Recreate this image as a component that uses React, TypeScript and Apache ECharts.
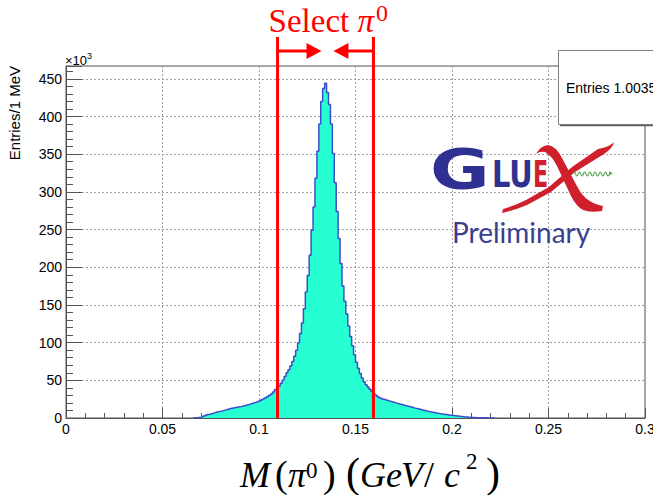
import { useEffect, useRef } from "react";
import * as echarts from "echarts";

// Two-photon invariant mass, 1 MeV bins, entries in units of 10^3
const FIRST_BIN_LOW_EDGE = 0.066; // GeV
const BIN_WIDTH = 0.001; // GeV
const entriesK: number[] = [
  0.3, 0.5, 0.8, 1.0, 1.5, 2.5, 3.5, 4.5, 5.3, 6.0,
  6.8, 7.5, 8.2, 8.8, 9.4, 10.1, 10.8, 11.5, 12.2, 12.8,
  13.4, 13.9, 14.4, 14.9, 15.4, 16.0, 16.7, 17.3, 18.0, 18.8,
  19.6, 20.4, 21.2, 22.0, 23.0, 24.2, 25.5, 27.0, 28.5, 30.2,
  32.0, 34.5, 37.5, 40.0, 42.5, 46.0, 50.0, 55, 60, 64,
  69, 75, 82, 90, 100, 112, 126, 145, 167, 189,
  216, 249, 280, 318, 354, 390, 420, 437, 444, 432,
  416, 390, 351, 312, 274, 238, 205, 175, 155, 138,
  122, 108, 96, 84, 74, 66, 59, 53, 48, 44,
  41, 38, 35, 32.5, 30.5, 28.5, 27, 25.8, 24.8, 24,
  23.2, 22.4, 21.6, 20.8, 20.1, 19.4, 18.7, 18.0, 17.3, 16.6,
  15.9, 15.2, 14.5, 13.8, 13.1, 12.5, 11.9, 11.3, 10.6, 10.0,
  9.4, 8.8, 8.2, 7.7, 7.2, 6.7, 6.2, 5.8, 5.4, 5.0,
  4.6, 4.2, 3.8, 3.5, 3.2, 2.9, 2.6, 2.3, 2.0, 1.7,
  1.4, 1.2, 1.0, 0.8, 0.6, 0.5, 0.4, 0.35, 0.3, 0.25,
  0.2, 0.18, 0.15, 0.12, 0.1, 0.08,
];

const X_MIN = 0;
const X_MAX = 0.3;
const X_INTERVAL = 0.05;
const Y_MIN = 0;
const Y_MAX = 467;
const Y_INTERVAL = 50;

// pi0 selection window (GeV)
const SELECT_WINDOW = [0.1096, 0.1593];

const Y_AXIS_TITLE = "Entries/1 MeV";
const STATS_TEXT = "Entries 1.00351e+07";

const SANS = "Liberation Sans";
const SERIF = "Liberation Serif";
const AXIS_GREY = "#555555";
const RED = "#ff0000";

// GlueX logo strokes
echarts.graphic.registerShape(
  "gluexThick",
  echarts.graphic.extendPath(
    "M536 154 Q540 146 548 145 Q556 146 562 158 L578 188 Q586 203 603 206 L602 211 Q590 213 583 210 Q576 206 571 196 L557 166 Q552 156 545 152 Q540 151 536 154 Z",
    {}
  )
);
echarts.graphic.registerShape(
  "gluexThin",
  echarts.graphic.extendPath(
    "M614 142 Q610 147 598 149 L572 167 L549 187 L526 200 Q514 206 503 209 L502 213 Q515 210 527 205 L551 192 L575 172 L604 154 Q613 148 614 142 Z",
    {}
  )
);
echarts.graphic.registerShape(
  "gluexWave",
  echarts.graphic.extendPath(
    "M573 174 Q574.3 170 575.6 174 Q576.9 178 578.2 174 Q579.5 170 580.8 174 Q582.1 178 583.4 174 Q584.7 170 586 174 Q587.3 178 588.6 174 Q589.9 170 591.2 174 Q592.5 178 593.8 174 Q595.1 170 596.4 174 Q597.7 178 599 174 Q600.3 170 601.6 174 Q602.9 178 604.2 174 Q605.5 170 606.8 174 Q608.1 178 609.4 174",
    {}
  )
);

function txt(
  x: number,
  y: number,
  text: string,
  opts: Record<string, unknown>,
  extra: Record<string, unknown> = {}
) {
  const align = (opts.align as string) || "left";
  const vAlign = (opts.verticalAlign as string) || "middle";
  return {
    type: "text",
    x,
    y,
    z: 60,
    ...extra,
    style: {
      text,
      align,
      textAlign: align,
      verticalAlign: vAlign,
      textVerticalAlign: vAlign,
      ...opts,
    },
  };
}

export default function App() {
  const ref = useRef<HTMLDivElement>(null);

  useEffect(() => {
    if (!ref.current) return;
    const chart = echarts.init(ref.current, null, { renderer: "svg" });

    const histPoints: [number, number][] = [[FIRST_BIN_LOW_EDGE, 0]];
    entriesK.forEach((v, i) => {
      histPoints.push([+(FIRST_BIN_LOW_EDGE + i * BIN_WIDTH).toFixed(4), v]);
    });
    histPoints.push([
      +(FIRST_BIN_LOW_EDGE + entriesK.length * BIN_WIDTH).toFixed(4),
      0,
    ]);

    const axisLabel = {
      fontFamily: SANS,
      fontSize: 14,
      color: "#000",
    };

    chart.setOption({
      animation: false,
      backgroundColor: "#ffffff",
      grid: {
        left: 66,
        top: 66,
        right: 8,
        bottom: 77,
        show: true,
        borderColor: AXIS_GREY,
        borderWidth: 1,
        containLabel: false,
        outerBoundsMode: "none",
      },
      xAxis: {
        type: "value",
        min: X_MIN,
        max: X_MAX,
        interval: X_INTERVAL,
        axisLine: { show: true, lineStyle: { color: AXIS_GREY, width: 1 } },
        axisTick: {
          show: true,
          inside: true,
          length: 10,
          lineStyle: { color: AXIS_GREY },
        },
        minorTick: {
          show: true,
          splitNumber: 5,
          length: 5,
          lineStyle: { color: AXIS_GREY },
        },
        splitLine: {
          show: true,
          lineStyle: { color: "#a0a0a0", type: [2, 2], width: 1 },
        },
        axisLabel: { ...axisLabel, margin: 4 },
      },
      yAxis: {
        type: "value",
        min: Y_MIN,
        max: Y_MAX,
        interval: Y_INTERVAL,
        axisLine: { show: true, lineStyle: { color: AXIS_GREY, width: 1 } },
        axisTick: {
          show: true,
          inside: true,
          length: 16,
          lineStyle: { color: AXIS_GREY },
        },
        minorTick: {
          show: true,
          splitNumber: 5,
          length: 7,
          lineStyle: { color: AXIS_GREY },
        },
        splitLine: {
          show: true,
          lineStyle: { color: "#a0a0a0", type: [2, 2], width: 1 },
        },
        axisLabel: { ...axisLabel, margin: 4, showMaxLabel: false },
      },
      series: [
        {
          type: "line",
          step: "end",
          data: histPoints,
          symbol: "none",
          showSymbol: false,
          lineStyle: { color: "#3a4fcc", width: 1.5 },
          areaStyle: { color: "#26ffd2", opacity: 1 },
          z: 3,
        },
      ],
    });

    const px = (v: number) =>
      chart.convertToPixel({ xAxisIndex: 0 }, v) as number;
    const py = (v: number) =>
      chart.convertToPixel({ yAxisIndex: 0 }, v) as number;

    const xL = px(SELECT_WINDOW[0]);
    const xR = px(SELECT_WINDOW[1]);
    const yBottom = py(Y_MIN);
    const yTop = py(Y_MAX);
    const plotLeft = px(X_MIN);
    const arrowY = 51;

    const italic = { fontFamily: SERIF, fontSize: 36, fontStyle: "italic", fill: "#000" };
    const parenS = { fontFamily: SERIF, fontSize: 38, fill: "#000" };
    const parenL = { fontFamily: SERIF, fontSize: 42, fill: "#000" };
    const upright = { fontFamily: SERIF, fontSize: 36, fill: "#000" };
    const sup = { fontFamily: SERIF, fontSize: 23, fill: "#000" };

    chart.setOption({
      graphic: {
        elements: [
          // selection window
          {
            type: "line",
            z: 70,
            shape: { x1: xL, y1: 37, x2: xL, y2: yBottom },
            style: { stroke: RED, lineWidth: 3 },
          },
          {
            type: "line",
            z: 70,
            shape: { x1: xR, y1: 37, x2: xR, y2: yBottom },
            style: { stroke: RED, lineWidth: 3 },
          },
          {
            type: "line",
            z: 70,
            shape: { x1: xL, y1: arrowY, x2: xL + 31, y2: arrowY },
            style: { stroke: RED, lineWidth: 3 },
          },
          {
            type: "polygon",
            z: 70,
            shape: {
              points: [
                [xL + 29, arrowY - 8],
                [xL + 44, arrowY],
                [xL + 29, arrowY + 8],
              ],
            },
            style: { fill: RED },
          },
          {
            type: "line",
            z: 70,
            shape: { x1: xR, y1: arrowY, x2: xR - 27, y2: arrowY },
            style: { stroke: RED, lineWidth: 3 },
          },
          {
            type: "polygon",
            z: 70,
            shape: {
              points: [
                [xR - 25, arrowY - 8],
                [xR - 40, arrowY],
                [xR - 25, arrowY + 8],
              ],
            },
            style: { fill: RED },
          },
          // selection label
          txt(374, 21, "{a|Select }{p|π}", {
            align: "right",
            fill: RED,
            rich: {
              a: { fontFamily: SERIF, fontSize: 33, fill: RED, color: RED },
              p: {
                fontFamily: SERIF,
                fontSize: 33,
                fontStyle: "italic",
                fill: RED,
                color: RED,
              },
            },
          }),
          txt(376, 13, "0", { fontFamily: SERIF, fontSize: 24, fill: RED }),
          // exponent marker
          txt(plotLeft - 1, 60.5, "×10", { fontFamily: SANS, fontSize: 13, fill: "#000" }),
          txt(plotLeft + 21, 56, "3", { fontFamily: SANS, fontSize: 9, fill: "#000" }),
          // y axis title
          txt(
            14,
            yTop,
            Y_AXIS_TITLE,
            { align: "right", fontFamily: SANS, fontSize: 15, fill: "#000" },
            { rotation: Math.PI / 2 }
          ),
          // x axis title
          txt(240, 475, "M", italic),
          txt(275, 474, "(", parenS),
          txt(288, 475, "π", italic),
          txt(306, 470, "0", sup),
          txt(323, 474, ")", parenS),
          txt(346, 473, "(", parenL),
          txt(360, 475, "G", italic),
          txt(386, 475, "e", italic),
          txt(401, 475, "V", italic),
          txt(424, 475, "/", upright),
          txt(444, 475, "c", italic),
          txt(466, 461, "2", sup),
          txt(486, 473, ")", parenL),
          // stats box
          {
            type: "rect",
            z: 80,
            shape: { x: 558.5, y: 50.5, width: 120, height: 74 },
            style: { fill: "#ffffff", stroke: "#808080", lineWidth: 1 },
          },
          {
            type: "line",
            z: 80,
            shape: { x1: 560, y1: 125.5, x2: 660, y2: 125.5 },
            style: { stroke: "#606060", lineWidth: 1.5 },
          },
          txt(566, 88, STATS_TEXT, { fontFamily: SANS, fontSize: 14, fill: "#000" }, { z: 81 }),
          // GlueX logo
          txt(
            430,
            168.5,
            "G",
            { fontFamily: "DejaVu Sans", fontWeight: "bold", fontSize: 56, fill: "#2e3192" },
            { scaleX: 1.3 }
          ),
          txt(
            492,
            174,
            "LU",
            { fontFamily: "DejaVu Sans", fontWeight: "bold", fontSize: 37, fill: "#2e3192" },
            { scaleX: 0.78 }
          ),
          txt(
            533,
            174,
            "E",
            { fontFamily: "DejaVu Sans", fontWeight: "bold", fontSize: 37, fill: "#d0202c" },
            { scaleX: 0.6 }
          ),
          {
            type: "gluexThin",
            z: 61,
            x: 0,
            y: 0,
            style: { fill: "#d0202c", stroke: "none" },
          },
          {
            type: "gluexThick",
            z: 62,
            x: 0,
            y: 0,
            style: { fill: "#d0202c", stroke: "none" },
          },
          {
            type: "gluexWave",
            z: 61,
            x: 0,
            y: 0,
            style: { fill: "none", stroke: "#55a855", lineWidth: 1.1 },
          },
          {
            type: "polygon",
            z: 61,
            shape: {
              points: [
                [609, 171.5],
                [613, 173],
                [609, 175.5],
              ],
            },
            style: { fill: "#55a855" },
          },
          txt(452, 232, "Preliminary", { fontFamily: "Lato", fontSize: 28, fill: "#3b3f8f" }),
        ],
      },
    });

    return () => chart.dispose();
  }, []);

  return (
    <div
      ref={ref}
      style={{ position: "absolute", left: 0, top: 0, width: 653, height: 495 }}
    />
  );
}
